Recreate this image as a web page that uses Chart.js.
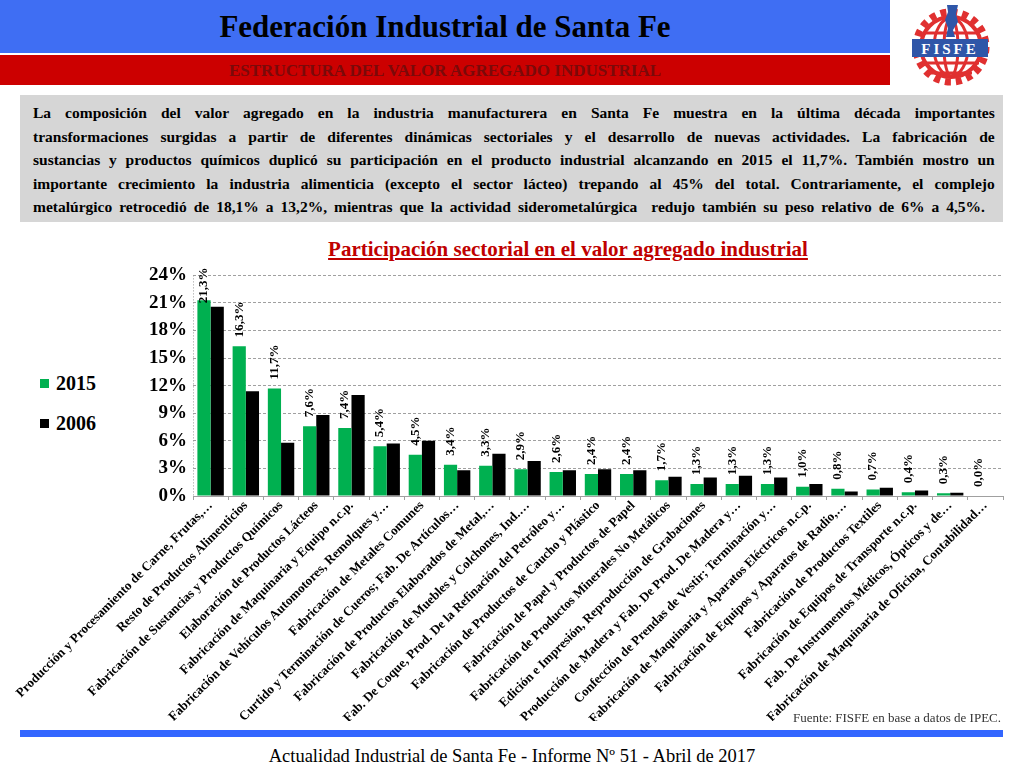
<!DOCTYPE html>
<html><head><meta charset="utf-8">
<script src="https://cdn.jsdelivr.net/npm/chart.js@4.4.0/dist/chart.umd.min.js"></script>
<style>
html,body{margin:0;padding:0;background:#fff;}
#page{position:relative;width:1024px;height:768px;overflow:hidden;font-family:"Liberation Serif","Times New Roman",serif;}
.abs{position:absolute;}
#hdrBlue{left:0;top:0;width:890px;height:53px;background:#3F6EF3;}
#hdrRed{left:0;top:55px;width:890px;height:30px;background:#CC0000;}
#title{left:0;top:8px;width:890px;text-align:center;font-weight:bold;font-size:31px;line-height:38px;color:#000;}
#subtitle{left:0;top:60px;width:890px;text-align:center;font-weight:bold;font-size:17px;line-height:22px;color:#7A0A0A;}
#box{left:20px;top:95px;width:983px;height:127px;background:#D6D6D6;}
.pl{position:absolute;left:33px;font-weight:bold;font-size:15.5px;white-space:pre;color:#000;line-height:20px;}
#ctitle{left:0;top:236px;width:1136px;text-align:center;font-weight:bold;font-size:21px;color:#C00000;text-decoration:underline;line-height:26px;}
#legend{left:40px;top:371px;font-weight:bold;font-size:20px;color:#000;}
.li{position:absolute;left:0;white-space:nowrap;line-height:24px;}
.sw{display:inline-block;width:9px;height:9px;margin-right:7px;vertical-align:2px;}
#chartBox{left:0;top:258px;width:1010px;height:463px;}
#fuente{left:700px;top:710px;width:301px;text-align:right;font-size:13px;color:#333;}
#bline{left:20px;top:730px;width:983px;height:7px;background:#3366FF;}
#footer{left:0;top:744px;width:1024px;text-align:center;font-size:18.5px;color:#000;line-height:24px;}
</style></head>
<body><div id="page">
<div id="hdrBlue" class="abs"></div>
<div id="hdrRed" class="abs"></div>
<div id="title" class="abs">Federación Industrial de Santa Fe</div>
<div id="subtitle" class="abs">ESTRUCTURA DEL VALOR AGREGADO INDUSTRIAL</div>
<svg class="abs" style="left:905px;top:0px" width="95" height="90" viewBox="905 0 95 90">
  <circle cx="951" cy="47" r="35" fill="none" stroke="#E03030" stroke-width="7" stroke-dasharray="6 5"/>
  <circle cx="951" cy="47" r="30" fill="none" stroke="#E03030" stroke-width="4"/>
  <ellipse cx="951" cy="47" rx="17" ry="29" fill="none" stroke="#E03030" stroke-width="3"/>
  <ellipse cx="951" cy="47" rx="7" ry="29" fill="none" stroke="#E03030" stroke-width="3"/>
  <line x1="923" y1="33" x2="979" y2="33" stroke="#E03030" stroke-width="3"/>
  <line x1="923" y1="63" x2="979" y2="63" stroke="#E03030" stroke-width="3"/>
  <line x1="930" y1="73" x2="972" y2="73" stroke="#E03030" stroke-width="3"/>
  <path d="M947 5 L958 5 L956 14 L958 22 L953 30 L955 37 L946 37 L948 28 L945 20 L948 12 Z" fill="#2F56A8"/>
  <rect x="912" y="39" width="76" height="18" fill="#2F56A8"/>
  <text x="950" y="53.5" text-anchor="middle" font-family="Liberation Serif" font-weight="bold" font-size="15" fill="#fff" letter-spacing="3">FISFE</text>
</svg>
<div id="box" class="abs"></div>
<div id="para"></div>
<div id="ctitle" class="abs">Participación sectorial en el valor agregado industrial</div>
<div id="legend" class="abs"></div>
<div id="chartBox" class="abs"><canvas id="c" width="1010" height="463"></canvas></div>
<div id="fuente" class="abs">Fuente: FISFE en base a datos de IPEC.</div>
<div id="bline" class="abs"></div>
<div id="footer" class="abs">Actualidad Industrial de Santa Fe - Informe Nº 51 - Abril de 2017</div>
</div>
<script>
const paragraphLines = [
  "La composición del valor agregado en la industria manufacturera en Santa Fe muestra en la última década importantes",
  "transformaciones surgidas a partir de diferentes dinámicas sectoriales y el desarrollo de nuevas actividades. La fabricación de",
  "sustancias y productos químicos duplicó su participación en el producto industrial alcanzando en 2015 el 11,7%. También mostro un",
  "importante crecimiento la industria alimenticia (excepto el sector lácteo) trepando al 45% del total. Contrariamente, el complejo",
  "metalúrgico retrocedió de 18,1% a 13,2%, mientras que la actividad siderometalúrgica  redujo también su peso relativo de 6% a 4,5%."
];
const categories = [
  "Producción y Procesamiento de Carne, Frutas,…",
  "Resto de Productos Alimenticios",
  "Fabricación de Sustancias y Productos Químicos",
  "Elaboración de Productos Lácteos",
  "Fabricación de Maquinaria y Equipo n.c.p.",
  "Fabricación de Vehículos Automotores, Remolques y…",
  "Fabricación de Metales Comunes",
  "Curtido y Terminación de Cueros; Fab. De Artículos…",
  "Fabricación de Productos Elaborados de Metal,…",
  "Fabricación de Muebles y Colchones, Ind.…",
  "Fab. De Coque, Prod. De la Refinación del Petróleo y…",
  "Fabricación de Productos de Caucho y Plástico",
  "Fabricación de Papel y Productos de Papel",
  "Fabricación de Productos Minerales No Metálicos",
  "Edición e Impresión, Reproducción de Grabaciones",
  "Producción de Madera y Fab. De Prod. De Madera y…",
  "Confección de Prendas de Vestir; Terminación y…",
  "Fabricación de Maquinaria y Aparatos Eléctricos n.c.p.",
  "Fabricación de Equipos y Aparatos de Radio,…",
  "Fabricación de Productos Textiles",
  "Fabricación de Equipos de Transporte n.c.p.",
  "Fab. De Instrumentos Médicos, Ópticos y de…",
  "Fabricación de Maquinaria de Oficina, Contabilidad…"
];
const values2015 = [21.3,16.3,11.7,7.6,7.4,5.4,4.5,3.4,3.3,2.9,2.6,2.4,2.4,1.7,1.3,1.3,1.3,1.0,0.8,0.7,0.4,0.3,0.0];
const values2006 = [20.6,11.4,5.8,8.8,11.0,5.7,6.0,2.8,4.6,3.8,2.8,2.9,2.8,2.1,2.0,2.2,2.0,1.3,0.5,0.9,0.6,0.35,0.0];
const seriesNames = ["2015","2006"];
const seriesColors = ["#00B050","#000000"];
const yMin = 0, yMax = 24, yStep = 3;

(function(){
  const para = document.getElementById('para');
  const tops = [103,126.5,150,173.5,197];
  const widths = [962,962,962,962,952];
  const mc = document.createElement('canvas').getContext('2d');
  mc.font = 'bold 15.5px "Liberation Serif"';
  paragraphLines.forEach((t,i)=>{
    const d = document.createElement('div');
    d.className='pl'; d.style.top = tops[i]+'px';
    d.textContent = t;
    const nat = mc.measureText(t).width;
    const spaces = (t.match(/ /g)||[]).length;
    d.style.wordSpacing = ((widths[i]-nat)/spaces)+'px';
    para.appendChild(d);
  });
})();

(function(){
  const lg = document.getElementById('legend');
  seriesNames.forEach((n,i)=>{
    const d = document.createElement('div');
    d.className='li'; d.style.top=(i*40)+'px';
    d.innerHTML = '<span class="sw" style="background:'+seriesColors[i]+'"></span>'+n;
    lg.appendChild(d);
  });
})();

const fmt = v => v.toFixed(1).replace('.', ',') + '%';

const labelPlugin = {
  id:'vlabels',
  afterDatasetsDraw(chart){
    const ctx = chart.ctx;
    const meta = chart.getDatasetMeta(0);
    const top = chart.chartArea.top;
    ctx.save();
    ctx.font = 'bold 13px "Liberation Serif"';
    ctx.fillStyle = '#000';
    ctx.textAlign = 'left';
    ctx.textBaseline = 'middle';
    meta.data.forEach((bar,i)=>{
      const txt = fmt(values2015[i]);
      const w = ctx.measureText(txt).width;
      let y = bar.y - 9;
      if (y - w < top - 8) y = top - 8 + w;
      ctx.save();
      ctx.translate(bar.x, y);
      ctx.rotate(-Math.PI/2);
      ctx.fillText(txt, 0, 0);
      ctx.restore();
    });
    ctx.restore();
  }
};
const yLinePlugin = {
  id:'ydots',
  beforeDatasetsDraw(chart){
    const {ctx, chartArea} = chart;
    ctx.save();
    ctx.strokeStyle = '#9A9A9A';
    ctx.lineWidth = 1;
    ctx.setLineDash([1,2]);
    ctx.beginPath();
    ctx.moveTo(chartArea.left+0.5, chartArea.top);
    ctx.lineTo(chartArea.left+0.5, chartArea.bottom);
    ctx.stroke();
    ctx.restore();
  }
};

new Chart(document.getElementById('c'), {
  type:'bar',
  data:{
    labels:categories,
    datasets:[
      {label:seriesNames[0], data:values2015, backgroundColor:seriesColors[0], barPercentage:1, categoryPercentage:0.75},
      {label:seriesNames[1], data:values2006, backgroundColor:seriesColors[1], barPercentage:1, categoryPercentage:0.75}
    ]
  },
  options:{
    responsive:false, animation:false,
    layout:{padding:{top:10,right:7,left:0,bottom:0}},
    plugins:{legend:{display:false}, tooltip:{enabled:false}},
    scales:{
      x:{
        grid:{drawOnChartArea:false, drawTicks:true, tickLength:4, color:'#A0A0A0'},
        border:{color:'#A0A0A0'},
        ticks:{minRotation:45, maxRotation:45, autoSkip:false, padding:-2, color:'#000',
               font:{family:'"Liberation Serif"', weight:'bold', size:13}},
        afterFit(s){ s.height = 225; }
      },
      y:{
        min:yMin, max:yMax,
        grid:{color:'#A0A0A0', drawTicks:false},
        border:{display:false, dash:[3,2]},
        ticks:{stepSize:yStep, padding:6, color:'#000', callback:v=>v+'%',
               font:{family:'"Liberation Serif"', weight:'bold', size:19}},
        afterFit(s){ s.width = 193; }
      }
    }
  },
  plugins:[labelPlugin, yLinePlugin]
});
</script>
</body></html>
